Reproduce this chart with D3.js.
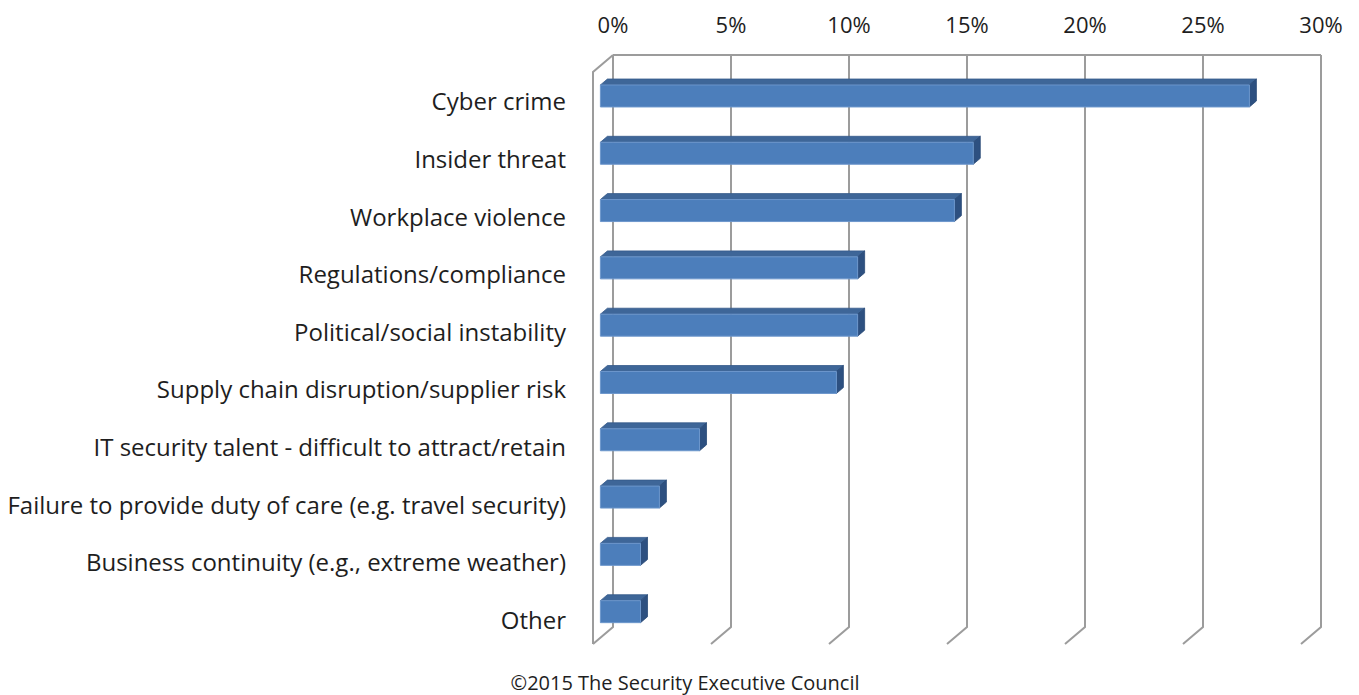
<!DOCTYPE html>
<html>
<head>
<meta charset="utf-8">
<script src="https://cdn.jsdelivr.net/npm/d3@7/dist/d3.min.js"></script>
<style>
  html, body { margin: 0; padding: 0; background: #fff; }
  svg { display: block; }
  text { font-family: "Open Sans", Lato, sans-serif; fill: #1e1e1e; }
</style>
</head>
<body>
<svg id="chart" width="1359" height="695"></svg>
<script>
// ---- data ----
const categories = [
  "Cyber crime",
  "Insider threat",
  "Workplace violence",
  "Regulations/compliance",
  "Political/social instability",
  "Supply chain disruption/supplier risk",
  "IT security talent - difficult to attract/retain",
  "Failure to provide duty of care (e.g. travel security)",
  "Business continuity (e.g., extreme weather)",
  "Other"
];
const values = [27.5, 15.8, 15.0, 10.9, 10.9, 10.0, 4.2, 2.5, 1.7, 1.7];
const tickValues = [0, 5, 10, 15, 20, 25, 30];
const tickLabels = ["0%", "5%", "10%", "15%", "20%", "25%", "30%"];
const footnote = "©2015 The Security Executive Council";

// ---- layout ----
const svg = d3.select("#chart");
const wallTop = 55, wallBottom = 627;
const D = { x: -20, y: 17 };            // depth vector (back -> front)
const barFront = 0.63, barBack = 0.28;  // bar depth fractions

const x = d3.scaleLinear().domain([0, 30]).range([613, 1321]);
const y = d3.scaleBand().domain(categories).range([56.6, 629.6])
  .paddingInner(0.616).paddingOuter(0.308);

const proj = (px, py, d) => [px + d * D.x, py + d * D.y];
const poly = pts => "M" + pts.map(p => p.join(",")).join("L") + "Z";

const grid = svg.append("g").attr("fill", "none")
  .attr("stroke", "#9c9c9c").attr("stroke-width", 2);

// left wall
grid.append("path").attr("d", (() => {
  const a = proj(x(0), wallTop, 0), b = proj(x(0), wallTop, 1),
        c = proj(x(0), wallBottom, 1);
  return "M" + a + "L" + b + "L" + c;
})());
// back wall top border
grid.append("line").attr("x1", x(0)).attr("x2", x(30))
  .attr("y1", wallTop).attr("y2", wallTop);
// gridlines with floor diagonals
tickValues.forEach(v => {
  const a = [x(v), wallTop], b = [x(v), wallBottom], c = proj(x(v), wallBottom, 1);
  grid.append("path").attr("d", "M" + a + "L" + b + "L" + c);
});

// tick labels
svg.append("g").selectAll("text").data(tickValues).join("text")
  .attr("x", d => x(d)).attr("y", 33)
  .attr("text-anchor", "middle")
  .attr("font-size", 22)
  .text((d, i) => tickLabels[i]);

// bars
const bars = svg.append("g");
categories.forEach((c, i) => {
  const v = values[i];
  const y0 = y(c), y1 = y(c) + y.bandwidth();
  const fTL = proj(x(0), y0, barFront), fTR = proj(x(v), y0, barFront),
        fBR = proj(x(v), y1, barFront), fBL = proj(x(0), y1, barFront);
  const bTL = proj(x(0), y0, barBack), bTR = proj(x(v), y0, barBack),
        bBR = proj(x(v), y1, barBack);
  const g = bars.append("g");
  g.append("path").attr("d", poly([fTL, fTR, bTR, bTL]))
    .attr("fill", "#3e6698").attr("stroke", "#365b8a").attr("stroke-width", 0.8);
  g.append("path").attr("d", poly([fTR, bTR, bBR, fBR]))
    .attr("fill", "#2d5080").attr("stroke", "#2a4a76").attr("stroke-width", 0.8);
  g.append("path").attr("d", poly([fTL, fTR, fBR, fBL]))
    .attr("fill", "#4c7ebb").attr("stroke", "#6d97cc").attr("stroke-width", 1);
});

// category labels
svg.append("g").selectAll("text").data(categories).join("text")
  .attr("x", 566)
  .attr("y", (d, i) => y(d) + y.bandwidth() / 2 + barFront * D.y + 6 + i * 0.3)
  .attr("dy", "0.35em")
  .attr("text-anchor", "end")
  .attr("font-size", 24)
  .text(d => d);

// footnote
svg.append("text").attr("x", 685).attr("y", 690)
  .attr("text-anchor", "middle").attr("font-size", 20)
  .text(footnote);
</script>
</body>
</html>
